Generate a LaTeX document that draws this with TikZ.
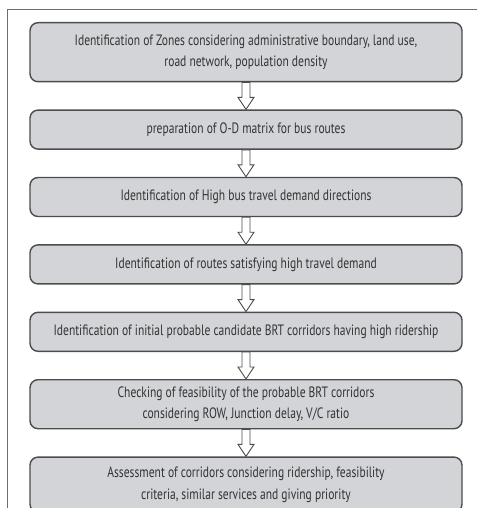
\documentclass[tikz,border=0pt]{standalone}
\usepackage{fontspec}
\setmainfont{PT Sans}[FakeStretch=0.77]
\usepackage{tikz}
\usetikzlibrary{positioning, calc}
\definecolor{boxfill}{HTML}{D2D4D8}
\definecolor{boxline}{HTML}{4C4C4C}
\definecolor{framegray}{HTML}{6E6E6E}
\definecolor{textgray}{HTML}{333333}

\begin{document}
\begin{tikzpicture}[x=1pt, y=1pt, node distance=27pt, font=\fontsize{15}{21.5}\selectfont\color{textgray}]
    \tikzstyle{stage} = [rectangle, rounded corners=8pt, minimum width=432pt, minimum height=39pt, align=center, draw=boxline, line width=1.4pt, fill=boxfill, inner sep=2pt]
    \tikzstyle{blockarrow} = [draw=boxline, fill=white, line width=0.9pt,
      to path={($(\tikztostart)+(-4pt,0)$) -- ($(\tikztotarget)+(-4pt,12pt)$) -- ($(\tikztotarget)+(-8pt,12pt)$) -- (\tikztotarget) -- ($(\tikztotarget)+(8pt,12pt)$) -- ($(\tikztotarget)+(4pt,12pt)$) -- ($(\tikztostart)+(4pt,0)$) -- cycle}]

    \useasboundingbox (0,0) rectangle (476,-508);
    \draw [framegray, line width=1pt] (7,-9.5) rectangle (500,-530);

    \node (zones) [stage, minimum height=59pt, anchor=north] at (246,-22) {
      Identification of Zones considering administrative boundary, land use,\\road network, population density};
    \node (odmatrix) [stage, below=of zones] {
      preparation of O-D matrix for bus routes};
    \node (demand) [stage, below=of odmatrix] {
      Identification of High bus travel demand directions};
    \node (routes) [stage, below=of demand] {
      Identification of routes satisfying high travel demand};
    \node (candidates) [stage, below=of routes] {
      Identification of initial probable candidate BRT corridors having high ridership};
    \node (feasibility) [stage, minimum height=49pt, below=of candidates] {
      Checking of feasibility of the probable BRT corridors\\considering ROW, Junction delay, V/C ratio};
    \node (assessment) [stage, minimum height=55pt, below=of feasibility] {
      Assessment of corridors considering ridership, feasibility\\criteria, similar services and giving priority};

    \draw [blockarrow] (zones.south) to (odmatrix.north);
    \draw [blockarrow] (odmatrix.south) to (demand.north);
    \draw [blockarrow] (demand.south) to (routes.north);
    \draw [blockarrow] (routes.south) to (candidates.north);
    \draw [blockarrow] (candidates.south) to (feasibility.north);
    \draw [blockarrow] (feasibility.south) to (assessment.north);
\end{tikzpicture}
\end{document}
